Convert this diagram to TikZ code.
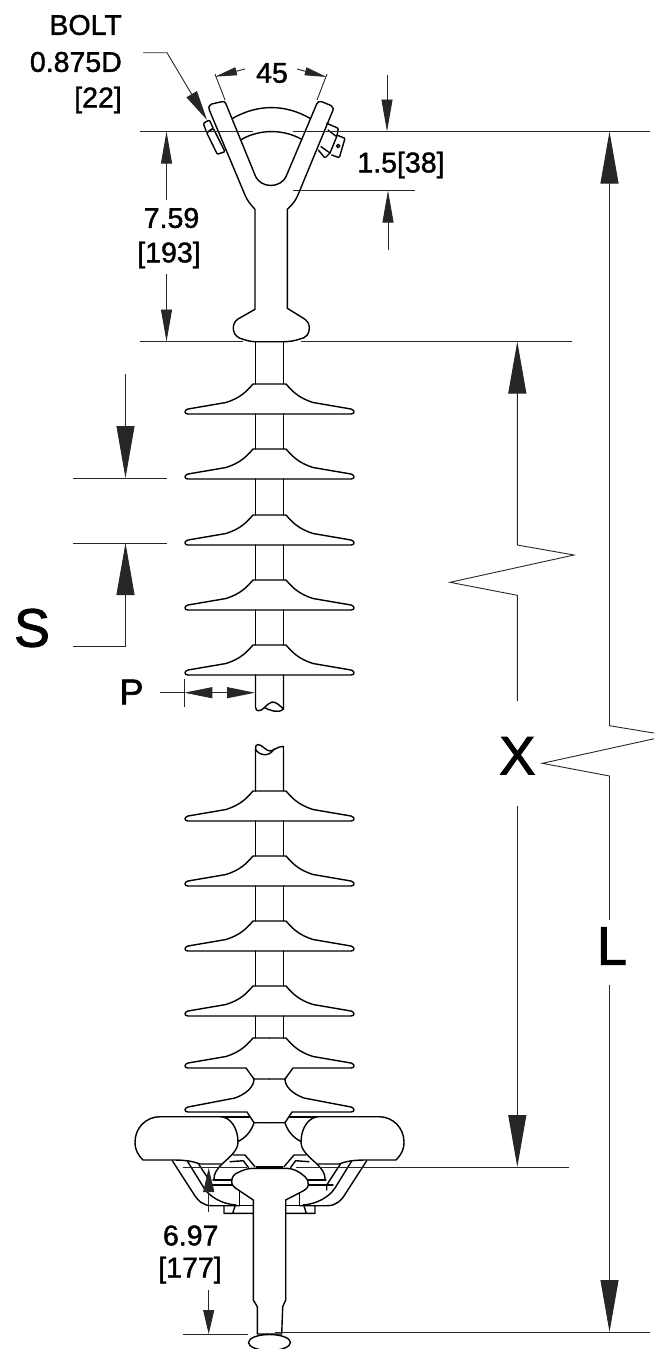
\documentclass[tikz,border=0pt]{standalone}
\usepackage{fontspec}
\setmainfont{Liberation Sans}
\newfontfamily\dimfont[FakeBold=1.4]{Liberation Sans}
\newfontfamily\bigfont[FakeBold=1.8]{Liberation Sans}
\usetikzlibrary{arrows.meta}
\tikzset{
  body/.style={line width=1.4pt,line join=round,line cap=round},
  dim/.style={line width=0.9pt,black!85},
  tipbig/.style={-{Triangle[length=52pt,width=18pt]}},
  tipmid/.style={-{Triangle[length=32pt,width=11pt]}},
  tipsmall/.style={-{Triangle[length=24pt,width=11pt]}},
  tipP/.style={-{Triangle[length=28pt,width=11pt]}},
  tipangle/.style={-{Triangle[length=22pt,width=8pt]}},
  tipbolt/.style={-{Triangle[length=30pt,width=12pt]}},
  dimtext/.style={font=\dimfont\fontsize{28.5}{30}\selectfont,inner sep=0pt,text=black},
  bigtext/.style={font=\bigfont\fontsize{54}{56}\selectfont,inner sep=0pt,text=black},
}
\newcommand\shedAt[1]{%
  \draw[body] (253,#1) .. controls (246,#1+8) and (240,#1+14) .. (226,#1+18.5)
    -- (188,#1+25) .. controls (184,#1+26) and (184,#1+30) .. (188,#1+30)
    -- (351,#1+30) .. controls (355,#1+30) and (355,#1+26) .. (351,#1+25)
    -- (313,#1+18.5) .. controls (299,#1+14) and (293,#1+8) .. (286,#1) -- cycle;}
\newcommand\rodFrom[2]{%
  \draw[body] (255.5,#1) -- (255.5,#2) (283.5,#1) -- (283.5,#2);}
\newcommand\lowerHalf{%
  % sheds with open necks
  \draw[body] (269.5,1038) -- (253,1038) .. controls (246,1046) and (240,1052) .. (226,1056.5)
    -- (188,1063) .. controls (184,1064) and (184,1068) .. (188,1068) -- (246,1068) -- (254,1079) -- (269.5,1079);
  \draw[body] (254,1079) .. controls (254,1087) and (246,1094) .. (235,1098)
    -- (188,1107) .. controls (184,1108) and (184,1112) .. (188,1112) -- (247,1112) -- (254,1122.7) -- (269.5,1122.7);
  \draw[body] (254,1122.7) .. controls (252,1130) and (246,1138) .. (237,1142);
  \draw[body] (220,1117) -- (250,1117);
  % bracket
  \draw[body] (172.3,1160.7) -- (193.3,1193.3) .. controls (198,1201) and (203,1205.7) .. (212,1205.7) -- (239.3,1205.7);
  \draw[body] (187.3,1161) -- (204,1188) .. controls (210,1197) and (222,1204) .. (236,1205);
  \draw[body] (197.3,1162) -- (212.3,1185) -- (212.3,1190);
  \draw[body] (213,1180) -- (232,1180) (206,1185) -- (232,1185);
  \draw[body] (222,1164) .. controls (216,1170) and (214,1174) .. (214,1179);
  \draw[body] (239.3,1191) -- (239.3,1205.7) -- (253,1205.7);
  \draw[body] (224,1206) -- (224,1213.3) -- (253,1213.3) (232.7,1213.3) -- (235,1206);
  \draw[body] (233.3,1155) -- (245,1155) -- (255,1166.7) (243.3,1160.7) -- (248.3,1167.3) (230,1161.7) -- (243.3,1160.7);
  % ring
  \draw[body,fill=white] (160,1116.7) -- (220,1116.7) .. controls (231,1116.7) and (238,1129) .. (238,1142)
    .. controls (238,1150) and (231,1156) .. (222,1164) -- (200,1164)
    .. controls (192,1161) and (185,1160) .. (173,1160) -- (143,1160)
    .. controls (138,1155) and (135,1150) .. (135,1142) .. controls (135,1128) and (146,1116.7) .. (160,1116.7) -- cycle;
}
\begin{document}
\begin{tikzpicture}[x=1pt,y=-1pt]
\clip (0,0) rectangle (654,1349);
% ---------- coordinates for dimensioning
\coordinate (topL) at (140,131.5);
\coordinate (topLb) at (253,131.5);
\coordinate (topRa) at (293,131.5);
\coordinate (topR) at (650,131.5);
\coordinate (midL) at (140,341.5);
\coordinate (midLb) at (243,341.5);
\coordinate (midRa) at (301,341.5);
\coordinate (midR) at (572,341.5);
\coordinate (a759t) at (166.5,131.5);
\coordinate (a759u) at (166.5,200);
\coordinate (a759d) at (166.5,274);
\coordinate (a759b) at (166.5,341.5);
\coordinate (a15a) at (387,75);
\coordinate (a15b) at (387,131.5);
\coordinate (a15c) at (388,250);
\coordinate (a15d) at (388,190.5);
\coordinate (e15l) at (293,190.5);
\coordinate (e15r) at (415,190.5);
% ---------- insulator: clevis
\draw[body,fill=white] (245,195) -- (209.3,110) .. controls (208,106) and (210,105) .. (211.7,104)
  -- (221.7,101.7) .. controls (224,101) and (225.5,102) .. (226,104) -- (255,175)
  .. controls (260,189) and (281.7,189) .. (286.7,175) -- (316.7,104)
  .. controls (317.5,102) and (319,101) .. (321.7,101.7) -- (331,105.5)
  .. controls (333.5,107) and (334,109) .. (331.7,113.3) -- (300,190)
  .. controls (296,200) and (294,203) .. (287.3,209.3) -- (287.3,308.3) -- (303,318)
  .. controls (308,321) and (309.3,324) .. (309.3,328.3) .. controls (309.3,334) and (306,338) .. (300,339)
  .. controls (294,341) and (289,341.7) .. (283.3,341.7) -- (255,341.7)
  .. controls (250,341.7) and (245,340) .. (240,338.3) .. controls (235,336) and (233.3,332) .. (233.3,328.3)
  .. controls (233.3,324) and (235,321) .. (238,319) -- (255,309.3) -- (255,209.3)
  .. controls (250,204) and (247,200) .. (245,195) -- cycle;
\draw[body] (232.7,118.3) .. controls (258,104) and (285,104) .. (310,118.3);
\draw[body] (241.7,139.3) .. controls (260,129) and (283,129) .. (301.7,139.3);
\draw[body,rounded corners=1pt] (203.3,123.3) -- (209.3,120) -- (213.3,128.3) -- (206.7,132.7) -- cycle;
\draw[body,rounded corners=1pt] (206.7,132.7) -- (213.3,128.3) -- (225,151.7) -- (217.3,154.3) -- cycle;
\draw[body,rounded corners=1pt] (326.7,123.3) -- (338.3,128.3) -- (337,136) -- (330,153) -- (325,158) -- (318.3,150);
\draw[body] (328,130) -- (336.7,136.7) (321,146.7) -- (330,153);
\draw[body,rounded corners=1pt] (336.7,135) -- (345,138.3) -- (339.3,157.7) -- (331.7,155);
\draw[body] (338.3,146) circle (1.7);
% ---------- sheds and rods
\rodFrom{342}{384}\rodFrom{414}{449}\rodFrom{479}{515}\rodFrom{545}{580}\rodFrom{610}{645}
\foreach \yy in {384,449,515,580,645,791,856,921,986}{\shedAt{\yy}}
\draw[body] (255.5,675) -- (255.5,707) .. controls (255.5,710) and (257,711) .. (259,710.7)
  .. controls (263,711) and (266,704) .. (272,702) .. controls (277,702) and (280,706) .. (283.5,709) -- (283.5,675);
\draw[body] (265,708) .. controls (270,710) and (278,714) .. (283.5,709);
\draw[body] (255.5,791) -- (255.5,749) .. controls (255.5,746) and (256,744.5) .. (258,744.5)
  .. controls (262,744.5) and (266,751) .. (270,751) .. controls (274,751) and (276,746.5) .. (283.5,746.5) -- (283.5,791);
\draw[body] (255.5,749) .. controls (258,755) and (269,758) .. (274,749);
\rodFrom{821}{856}\rodFrom{886}{921}\rodFrom{951}{986}\rodFrom{1016}{1038}
% ---------- lower end
\lowerHalf
\begin{scope}[shift={(539,0)},xscale=-1]\lowerHalf\end{scope}
\draw[body,fill=white] (253.3,1200) -- (238.3,1190) .. controls (233,1187) and (231.7,1184) .. (231.7,1181.7)
  .. controls (231.7,1177) and (234,1174) .. (238,1172.5) .. controls (243,1170) and (248,1168.3) .. (253.3,1168.3)
  -- (286.7,1168.3) .. controls (294,1168.5) and (300,1172) .. (305,1176.7) .. controls (308,1180) and (308.3,1182) .. (308.3,1185)
  .. controls (308,1188) and (305,1190) .. (301.7,1191.7) -- (285.7,1200) -- (285.7,1300) -- (282.7,1306.7) -- (281.7,1334)
  -- (257.3,1334) -- (257.3,1306.7) -- (253.3,1300) -- cycle;
\draw[line width=1.8pt] (256,1167) -- (283,1167);
\draw[body,fill=white] (269.5,1342.5) ellipse (21 and 8);
% ---------- dimension lines
\draw[dim] (topL) -- (topLb) (topRa) -- (topR);
\draw[dim] (midL) -- (midLb) (midRa) -- (midR);
\draw[dim,tipmid] (a759u) -- (a759t);
\draw[dim,tipmid] (a759d) -- (a759b);
\node[dimtext] (t759) at (171.5,218) {7.59};
\node[dimtext] (t193) at (169,255) {[193]};
\draw[dim,tipmid] (a15a) -- (a15b);
\draw[dim,tipmid] (a15c) -- (a15d);
\draw[dim] (e15l) -- (e15r);
\node[dimtext] (t15) at (401,165) {1.5[38]};
% 45
\coordinate (a45a) at (245,69);
\coordinate (a45b) at (215,76.7);
\coordinate (a45c) at (297,69);
\coordinate (a45d) at (326.7,77);
\draw[dim,tipangle] (a45a) -- (a45b);
\draw[dim,tipangle] (a45c) -- (a45d);
\coordinate (e45a) at (215,74);
\coordinate (e45b) at (225,100);
\coordinate (e45c) at (327,74);
\coordinate (e45d) at (317,100);
\draw[dim] (e45a) -- (e45b) (e45c) -- (e45d);
\node[dimtext] (t45) at (272,73) {45};
% bolt
\node[dimtext,anchor=east] (tBolt) at (122,25) {BOLT};
\node[dimtext,anchor=east] (tBoltD) at (122,62) {0.875D};
\node[dimtext,anchor=east] (tBoltM) at (122,100) {[22]};
\coordinate (l1) at (143,52.7);
\coordinate (l2) at (167,52.7);
\coordinate (l3) at (207,120);
\draw[dim,tipbolt] (l1) -- (l2) -- (l3);
% S
\coordinate (sA) at (73,478);
\coordinate (sB) at (167,478);
\coordinate (sC) at (73,543);
\coordinate (sD) at (167,543);
\coordinate (sE) at (125.5,374);
\coordinate (sF) at (125.5,478);
\coordinate (sG) at (73,646);
\coordinate (sH) at (125.5,646);
\coordinate (sI) at (125.5,543);
\draw[dim] (sA) -- (sB) (sC) -- (sD);
\draw[dim,tipbig] (sE) -- (sF);
\draw[dim,tipbig] (sG) -- (sH) -- (sI);
\node[bigtext] (tS) at (32,628) {S};
% P
\node[font=\bigfont\fontsize{36}{38}\selectfont,inner sep=0pt] (tP) at (131.5,692) {P};
\coordinate (pA) at (160,692.7);
\coordinate (pB) at (184.3,692.7);
\coordinate (pC) at (220,692.7);
\coordinate (pD) at (255,692.7);
\coordinate (pE) at (184.5,679);
\coordinate (pF) at (184.5,707);
\draw[dim] (pA) -- (pB) (pE) -- (pF);
\draw[dim,tipP] (pC) -- (pB);
\draw[dim,tipP] (pC) -- (pD);
% X
\coordinate (x0) at (517.3,341.5);
\coordinate (x1) at (517.3,545);
\coordinate (x2) at (574,555);
\coordinate (x3) at (450,582.3);
\coordinate (x4) at (517.3,595.3);
\coordinate (x5) at (517.3,701);
\coordinate (x6) at (517.3,805.7);
\coordinate (x7) at (517.3,1167);
\coordinate (x8) at (296,1167);
\coordinate (x9) at (569,1167);
\coordinate (x10) at (183,1167);
\coordinate (x11) at (247,1167);
\draw[dim,-{Triangle[length=52pt,width=18pt]}] (x5) -- (x4) -- (x3) -- (x2) -- (x1) -- (x0);
\draw[dim,tipbig] (x6) -- (x7);
\draw[dim] (x8) -- (x9) (x10) -- (x11);
\node[bigtext] (tX) at (517.3,755.7) {X};
% L
\coordinate (L0) at (609.5,131.5);
\coordinate (L1) at (609.5,725.7);
\coordinate (L2) at (669,735.5);
\coordinate (L3) at (542.3,763.3);
\coordinate (L4) at (609.5,776);
\coordinate (L5) at (609.5,920);
\coordinate (L6) at (609.5,985);
\coordinate (L7) at (609.5,1332);
\draw[dim,-{Triangle[length=52pt,width=18pt]}] (L5) -- (L4) -- (L3) -- (L2) -- (L1) -- (L0);
\draw[dim,tipbig] (L6) -- (L7);
\node[bigtext] (tL) at (612,946) {L};
% 6.97
\coordinate (b1) at (183,1334);
\coordinate (b2) at (248,1334);
\coordinate (b3) at (275,1332);
\coordinate (b4) at (650,1332);
\coordinate (c1) at (208.7,1212);
\coordinate (c2) at (208.7,1168);
\coordinate (c3) at (208.7,1290);
\coordinate (c4) at (208.7,1334);
\draw[dim] (b1) -- (b2) (b3) -- (b4);
\draw[dim,tipsmall] (c1) -- (c2);
\draw[dim,tipsmall] (c3) -- (c4);
\node[dimtext] (t697) at (190.7,1235.5) {6.97};
\node[dimtext] (t177) at (190,1270) {[177]};
\end{tikzpicture}
\end{document}
